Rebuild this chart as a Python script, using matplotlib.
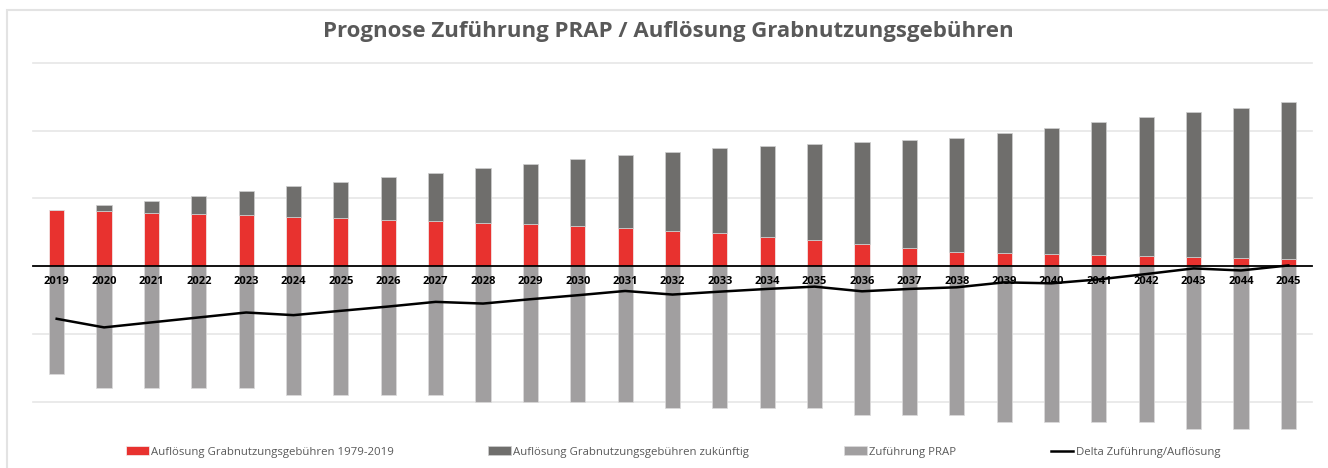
# -*- coding: utf-8 -*-
import matplotlib.pyplot as plt
import matplotlib.patches as mpatches
import numpy as np

plt.rcParams['font.family'] = ['Open Sans', 'DejaVu Sans']

years = [str(y) for y in range(2019, 2046)]

# Auflösung Grabnutzungsgebühren 1979-2019 (red)
aufl_alt = [82.8, 81.3, 78.3, 76.8, 75.4, 72.4, 70.4, 68.5, 66.5,
            64.0, 61.6, 59.1, 56.7, 52.2, 48.8, 43.3, 37.9, 32.0,
            26.1, 20.2, 18.7, 17.2, 15.8, 14.3, 12.8, 11.3, 9.9]
# Auflösung gesamt (top of the stacked bar)
aufl_gesamt = [82.8, 90.6, 96.1, 103.9, 110.8, 117.7, 124.1, 131.0, 137.4,
               144.8, 150.7, 157.6, 164.0, 168.0, 173.9, 176.8, 180.3, 183.3,
               186.7, 189.2, 197.0, 204.4, 212.3, 219.7, 227.1, 234.0, 241.9]
# Zuführung PRAP (negative)
zufuehrung = [-160, -180, -180, -180, -180, -190, -190, -190, -190,
              -200, -200, -200, -200, -210, -210, -210, -210, -220,
              -220, -220, -230, -230, -230, -230, -240, -240, -240]
# Delta Zuführung/Auflösung
delta = [-77.8, -90.5, -83.1, -75.8, -68.5, -72.4, -66.0, -59.7, -52.8,
         -55.3, -48.9, -43.0, -36.7, -42.0, -37.7, -33.7, -30.3, -37.2,
         -33.7, -31.3, -24.0, -25.4, -19.6, -11.7, -3.4, -6.4, 1.0]

aufl_neu = [g - a for g, a in zip(aufl_gesamt, aufl_alt)]

red = '#E8322F'
dark = '#6F6E6C'
light = '#A19FA0'

fig = plt.figure(figsize=(13.28, 4.68), dpi=100)
ax = fig.add_axes([33 / 1328, 1 - 432 / 468, (1312 - 33) / 1328, (432 - 63) / 468])

# chart border (only top/left visible in reference)
fig.patches.append(mpatches.Rectangle((7 / 1328, -0.05), 1.1, 1 - 10 / 468 + 0.05,
                                      transform=fig.transFigure, fill=False,
                                      edgecolor='#E3E3E3', linewidth=1.5))

# gridlines
for g in [-200, -100, 100, 200, 300]:
    ax.axhline(g, color='#E6E6E6', linewidth=1.2, zorder=0, clip_on=False)

x = np.arange(len(years))
w = 0.32
b1 = ax.bar(x, aufl_alt, w, color=red, edgecolor='#f2f2f2', linewidth=0.5, zorder=1)
b2 = ax.bar(x, aufl_neu, w, bottom=aufl_alt, color=dark, edgecolor='#cfcfcf',
            linewidth=0.5, zorder=1)
b3 = ax.bar(x, zufuehrung, w, color=light, edgecolor='#dcdcdc', linewidth=0.5, zorder=1)
ln, = ax.plot(x, delta, color='black', linewidth=1.8, zorder=4)

ax.set_xlim(-0.5, len(years) - 0.5)
ax.set_ylim(-245, 300)
ax.tick_params(axis='y', left=False, labelleft=False)

for s in ['top', 'right', 'left']:
    ax.spines[s].set_visible(False)
ax.spines['bottom'].set_position(('data', 0))
ax.spines['bottom'].set_color('black')
ax.spines['bottom'].set_linewidth(1.3)
ax.spines['bottom'].set_zorder(5)

ax.set_xticks(x)
ax.set_xticklabels(years, fontsize=8, fontweight='bold', color='black')
ax.tick_params(axis='x', length=0, pad=7)
ax.xaxis.set_zorder(3)

fig.text(0.503, 1 - 31 / 468, 'Prognose Zuführung PRAP / Auflösung Grabnutzungsgebühren',
         ha='center', va='center', fontsize=16, fontweight='bold', color='#595959')

fig.legend([b1, b2, b3, ln],
           ['Auflösung Grabnutzungsgebühren 1979-2019',
            'Auflösung Grabnutzungsgebühren zukünftig',
            'Zuführung PRAP', 'Delta Zuführung/Auflösung'],
           loc='center', bbox_to_anchor=(673 / 1328, 1 - 452 / 468), ncol=4,
           frameon=False, fontsize=8.2, labelcolor='#595959',
           handlelength=2.0, handleheight=0.8, handletextpad=0.2,
           columnspacing=8.3)

plt.savefig('out.png', dpi=100)
